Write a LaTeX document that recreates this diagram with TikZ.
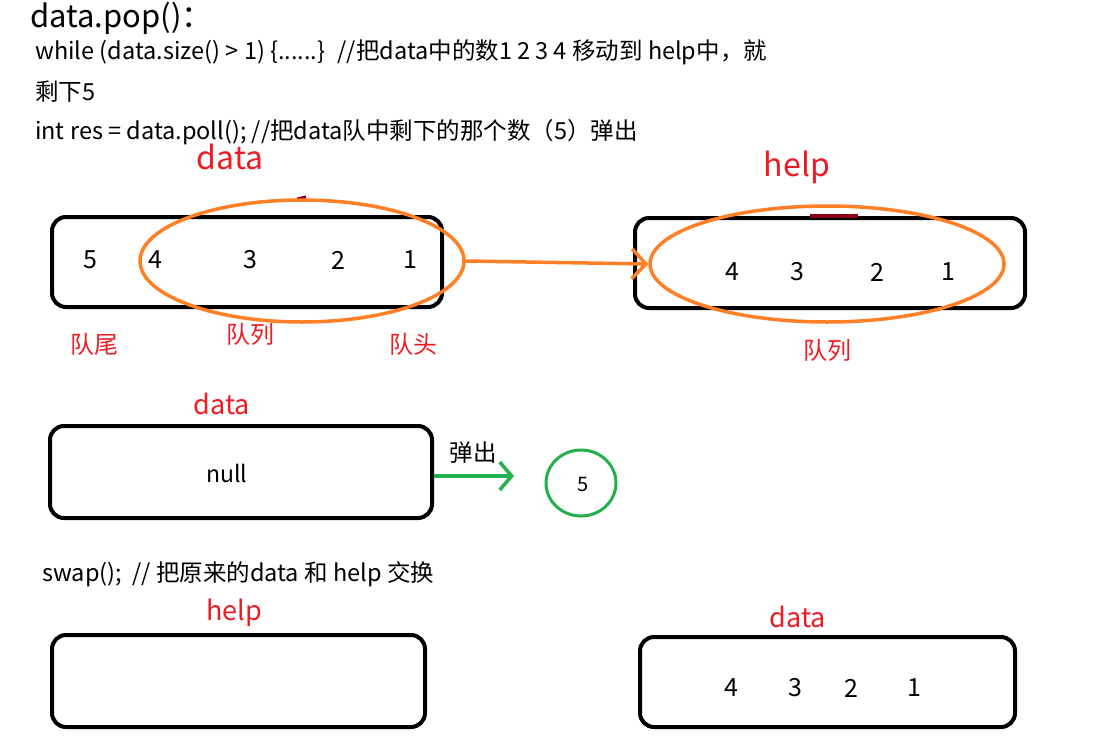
\documentclass[tikz,border=0pt]{standalone}
\usepackage{fontspec}
\setmainfont{Noto Sans CJK SC}
\usetikzlibrary{arrows.meta,shapes.geometric}
\definecolor{myred}{HTML}{ED1C24}
\definecolor{myorange}{HTML}{FF7F27}
\definecolor{mygreen}{HTML}{22B14C}
\definecolor{mydark}{HTML}{880015}
\tikzset{
  qbox/.style={draw=black, line width=4pt, rounded corners=14pt},
  redlbl/.style={text=myred, font=\fontsize{32}{36}\selectfont, inner sep=0pt},
  redmid/.style={text=myred, font=\fontsize{27}{31}\selectfont, inner sep=0pt},
  redsm/.style={text=myred, font=\fontsize{24}{28}\selectfont, inner sep=0pt},
  num/.style={font=\fontsize{25}{29}\selectfont, inner sep=0pt},
  txt/.style={font=\fontsize{23.5}{27}\selectfont, inner sep=0pt, anchor=west},
  oval/.style={draw=myorange, line width=3.5pt},
  openhead/.style={-{Straight Barb[length=14pt,width=30pt,line width=3.5pt]}},
}
\begin{document}
\begin{tikzpicture}[x=1pt,y=-1pt]
\useasboundingbox (0,0) rectangle (1099,752);
% header texts
\node[font=\fontsize{31}{35}\selectfont, inner sep=0pt, anchor=west] (title) at (30,18) {data.pop()：};
\node[txt] (l1) at (35,52) {while (data.size() > 1) \{......\} \ //把data中的数1 2 3 4 移动到 help中，就};
\node[txt] (l2) at (35,92) {剩下5};
\node[txt] (l3) at (35,132) {int res = data.poll(); //把data队中剩下的那个数（5）弹出};
% first row
\node[redlbl] (lbldata1) at (230,157) {data};
\node[redlbl] (lblhelp1) at (797,167) {help};
\draw[qbox] (52,217) rectangle (442,307);
\node[num] (n15) at (90,260) {5};
\node[num] (n14) at (155,260) {4};
\node[num] (n13) at (250,260) {3};
\node[num] (n12) at (338,260) {2};
\node[num] (n11) at (410,260) {1};
\draw[mydark, line width=3pt] (297,199) -- (306,197);
\node[oval, ellipse, minimum width=324pt, minimum height=122pt, inner sep=0pt] (ov1) at (302,261) {};
\draw[qbox] (635,218) rectangle (1025,308);
\draw[mydark, line width=3.5pt] (810,216) -- (858,216);
\node[num] (n24) at (732,272) {4};
\node[num] (n23) at (797,272) {3};
\node[num] (n22) at (877,272) {2};
\node[num] (n21) at (948,272) {1};
\node[oval, ellipse, minimum width=354pt, minimum height=116pt, inner sep=0pt] (ov2) at (827,264) {};
\draw[myorange, line width=3.5pt, openhead] (ov1.east) -- (ov2.west);
\node[redsm] (q1) at (94,344) {队尾};
\node[redsm] (q2) at (250,334) {队列};
\node[redsm] (q3) at (413,344) {队头};
\node[redsm] (q4) at (827,350) {队列};
% second row
\node[redmid] (lbldata2) at (222,404) {data};
\node[qbox, minimum width=382pt, minimum height=92pt, inner sep=0pt] (box3) at (241,472) {};
\node[font=\fontsize{23}{27}\selectfont, inner sep=0pt] (null) at (227,473) {null};
\node[font=\fontsize{23.5}{27}\selectfont, inner sep=0pt] (pop) at (473,453) {弹出};
\coordinate (gend) at (514,476);
\draw[mygreen, line width=3.5pt, -{Straight Barb[length=12pt,width=28pt,line width=3.5pt]}] (box3.east |- gend) -- (gend);
\node[draw=mygreen, line width=3pt, ellipse, minimum width=70pt, minimum height=66pt, inner sep=0pt] (c5) at (581,483) {};
\node[font=\fontsize{20}{24}\selectfont, inner sep=0pt] (five) at (583,484) {5};
% third row
\node[txt] (l4) at (42,574) {swap();\ \ // 把原来的data 和 help 交换};
\node[redmid] (lblhelp2) at (234,613) {help};
\draw[qbox] (52,635) rectangle (425,727);
\node[redmid] (lbldata3) at (798,617) {data};
\draw[qbox] (640,637) rectangle (1015,727);
\node[num] (n34) at (731,688) {4};
\node[num] (n33) at (795,688) {3};
\node[num] (n32) at (851,688) {2};
\node[num] (n31) at (914,688) {1};
\end{tikzpicture}
\end{document}
